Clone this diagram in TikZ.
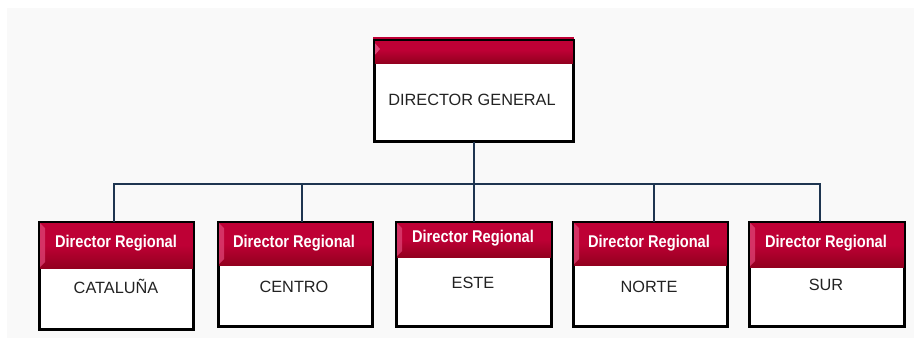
\documentclass[tikz,border=0pt]{standalone}
\usepackage{fontspec}
\setmainfont{Liberation Sans}
\newfontfamily\hdrfont[FakeStretch=0.86]{Liberation Sans}
\usetikzlibrary{shadows}
\definecolor{bgc}{HTML}{F9F9F9}
\definecolor{crimT}{HTML}{BE0035}
\definecolor{crimB}{HTML}{93001F}
\definecolor{crimL}{HTML}{E0487A}
\definecolor{linec}{HTML}{1E3550}
\definecolor{txtc}{HTML}{222222}
\tikzset{
  orgbox/.style={draw=black, line width=1.8pt, fill=white, inner sep=0pt,
    drop shadow={shadow xshift=2pt, shadow yshift=-2pt, fill=black!35, opacity=0.6}},
  hdr/.style={top color=crimT, bottom color=crimB, middle color=crimT},
  border/.style={draw=black, line width=1.8pt},
  conn/.style={draw=linec, line width=2.5pt},
  hdrtxt/.style={text=white, font=\hdrfont\bfseries\fontsize{17}{18}\selectfont, inner sep=0pt},
  bodytxt/.style={text=txtc, font=\fontsize{16.3}{18}\selectfont, inner sep=0pt}
}
\begin{document}
\begin{tikzpicture}[x=1pt,y=-1pt]
\useasboundingbox (0,0) rectangle (914,338);
\fill[bgc] (7,8) rectangle (914,338);

% top box
\node[orgbox, minimum width=198pt, minimum height=100pt, anchor=north west] (top) at (374,40) {};
\shade[hdr] ([xshift=-1pt,yshift=3pt]top.north west) rectangle ([yshift=-23pt]top.north east);
\fill[crimL] ([xshift=-1pt,yshift=-1pt]top.north west) -- ++(7,8) -- ++(-7,8) -- cycle;
\draw[border] (top.north west) rectangle (top.south east);
\node[bodytxt] (toptxt) at (472,100) {DIRECTOR GENERAL};

% bottom boxes
\node[orgbox, minimum width=153pt, minimum height=106pt, anchor=north west] (b1) at (39,222) {};
\node[orgbox, minimum width=153pt, minimum height=103pt, anchor=north west] (b2) at (218,222) {};
\node[orgbox, minimum width=154pt, minimum height=103pt, anchor=north west] (b3) at (396,222) {};
\node[orgbox, minimum width=153pt, minimum height=103pt, anchor=north west] (b4) at (573,222) {};
\node[orgbox, minimum width=154pt, minimum height=103pt, anchor=north west] (b5) at (749,222) {};

\shade[hdr] (b1.north west) rectangle ([yshift=-46pt]b1.north east);
\shade[hdr] (b2.north west) rectangle ([yshift=-43pt]b2.north east);
\shade[hdr] (b3.north west) rectangle ([yshift=-35pt]b3.north east);
\shade[hdr] (b4.north west) rectangle ([yshift=-43pt]b4.north east);
\shade[hdr] (b5.north west) rectangle ([yshift=-45pt]b5.north east);
\foreach \b/\h in {b1/46,b2/43,b3/35,b4/43,b5/45}{
  \fill[crimL, opacity=0.7] (\b.north west) -- ([xshift=6pt,yshift=-6pt]\b.north west) -- ([xshift=6pt,yshift=-\h pt+6pt]\b.north west) -- ([yshift=-\h pt]\b.north west) -- cycle;
  \draw[border] (\b.north west) rectangle (\b.south east);
}

\node[hdrtxt] (h1) at (116,243) {Director Regional};
\node[hdrtxt] (h2) at (294,243) {Director Regional};
\node[hdrtxt] (h3) at (473,238) {Director Regional};
\node[hdrtxt] (h4) at (649,243) {Director Regional};
\node[hdrtxt] (h5) at (826,243) {Director Regional};

\node[bodytxt] (t1) at (116,286) {CATALUÑA};
\node[bodytxt] (t2) at (294,287) {CENTRO};
\node[bodytxt] (t3) at (473,283) {ESTE};
\node[bodytxt] (t4) at (649,287) {NORTE};
\node[bodytxt] (t5) at (826,285) {SUR};

% connectors
\coordinate (bus) at (473,184);
\draw[conn] (top.south) -- (top.south |- bus);
\draw[conn] ([xshift=-2.5pt]b1.north) |- (bus);
\draw[conn] ([xshift=6.5pt]b2.north) |- (bus);
\draw[conn] (b3.north) -- (b3.north |- bus);
\draw[conn] ([xshift=3.5pt]b4.north) |- (bus);
\draw[conn] ([xshift=-7pt]b5.north) |- (bus);
\end{tikzpicture}
\end{document}
